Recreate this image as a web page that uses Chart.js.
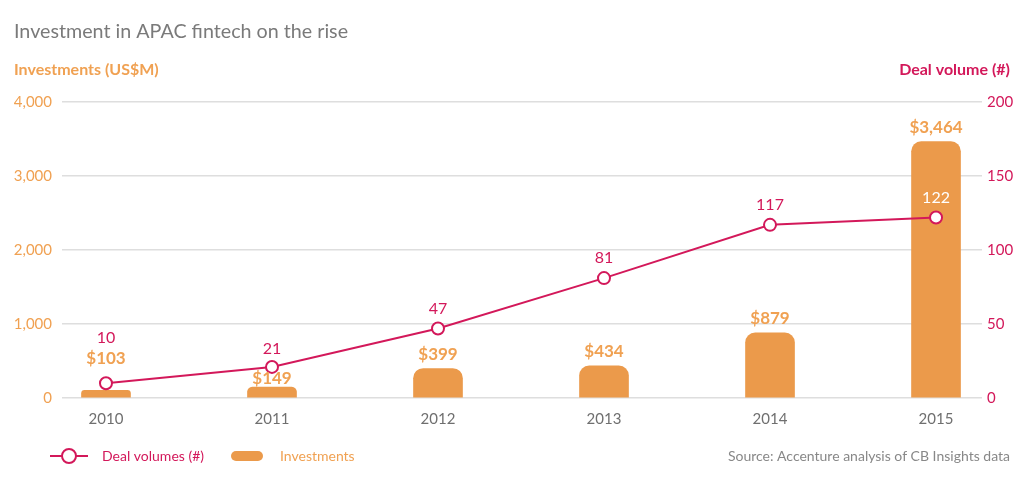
<!DOCTYPE html>
<html>
<head>
<meta charset="utf-8">
<script src="https://cdn.jsdelivr.net/npm/chart.js@4/dist/chart.umd.min.js"></script>
<style>
  html, body { margin: 0; padding: 0; background: #fff; }
  #wrap { width: 1024px; height: 485px; }
</style>
</head>
<body>
<div id="wrap"><canvas id="grafico"></canvas></div>
<script>
const years = ['2010', '2011', '2012', '2013', '2014', '2015']
const investments = [103, 149, 399, 434, 879, 3464]
const dealVolumes = [10, 21, 47, 81, 117, 122]
const leftTicks = [0, 1000, 2000, 3000, 4000]
const rightTicks = [0, 50, 100, 150, 200]

const FONT = 'Lato, "Open Sans", sans-serif'
const ORANGE = '#eb9a4b'
const ORANGE_TXT = '#f0a152'
const CRIMSON = '#d3185a'
const GREY = '#7a7a7a'

function money(v) {
    return '$' + v.toLocaleString('en-US')
}

const labelsPlugin = {
    id: 'labels',
    afterDatasetsDraw(chart) {
        const ctx = chart.ctx
        const bars = chart.getDatasetMeta(1).data
        const pts = chart.getDatasetMeta(0).data
        ctx.save()
        ctx.textAlign = 'center'
        ctx.textBaseline = 'middle'
        bars.forEach(function (b, i) {
            let p = pts[i]
            let yBar = b.y - 14
            let yLine = p.y - 20
            // 2010 and 2011 labels would collide with the line
            if (i == 0) { yBar = p.y - 25; yLine = yBar - 20 }
            if (i == 1) { yBar = b.y - 8; yLine = p.y - 18 }

            ctx.font = 'bold 17px ' + FONT
            ctx.fillStyle = ORANGE_TXT
            ctx.fillText(money(investments[i]), b.x, yBar)

            ctx.font = '16px ' + FONT
            ctx.fillStyle = (p.y > b.y) ? '#ffffff' : CRIMSON
            ctx.fillText(String(dealVolumes[i]), p.x, yLine)
        })
        ctx.restore()
    },
    afterDraw(chart) {
        const ctx = chart.ctx
        ctx.save()
        ctx.textBaseline = 'middle'

        ctx.font = '19.7px ' + FONT
        ctx.fillStyle = GREY
        ctx.textAlign = 'left'
        ctx.fillText('Investment in APAC fintech on the rise', 14, 32)

        ctx.font = 'bold 16px ' + FONT
        ctx.fillStyle = ORANGE_TXT
        ctx.fillText('Investments (US$M)', 14, 70)
        ctx.fillStyle = CRIMSON
        ctx.textAlign = 'right'
        ctx.fillText('Deal volume (#)', 1010, 70)

        // legend
        ctx.strokeStyle = CRIMSON
        ctx.lineWidth = 2
        ctx.beginPath()
        ctx.moveTo(50, 456)
        ctx.lineTo(88, 456)
        ctx.stroke()
        ctx.beginPath()
        ctx.arc(69, 456, 7, 0, Math.PI * 2)
        ctx.fillStyle = '#fff'
        ctx.fill()
        ctx.stroke()

        ctx.font = '14px ' + FONT
        ctx.textAlign = 'left'
        ctx.fillStyle = CRIMSON
        ctx.fillText('Deal volumes (#)', 102, 456)

        ctx.fillStyle = ORANGE
        ctx.beginPath()
        ctx.roundRect(231, 451, 32, 10, 5)
        ctx.fill()
        ctx.fillStyle = ORANGE_TXT
        ctx.fillText('Investments', 280, 456)

        ctx.fillStyle = '#888'
        ctx.textAlign = 'right'
        ctx.fillText('Source: Accenture analysis of CB Insights data', 1010, 456)
        ctx.restore()
    }
}

let canvas = document.getElementById('grafico').getContext('2d')
var chart = new Chart(canvas, {
    type: 'bar',
    data: {
        datasets: [{
                type: 'line',
                label: 'Deal volumes (#)',
                data: dealVolumes.map(function (v, i) { return { x: i, y: v } }),
                yAxisID: 'y1',
                borderColor: CRIMSON,
                borderWidth: 2,
                pointRadius: 6,
                pointBorderWidth: 2,
                pointBackgroundColor: '#fff',
                pointBorderColor: CRIMSON,
                tension: 0,
                order: 0
            }, {
                label: 'Investments',
                data: investments.map(function (v, i) { return { x: i, y: v } }),
                yAxisID: 'y',
                backgroundColor: ORANGE,
                barThickness: 49,
                borderRadius: { topLeft: 10, topRight: 10 },
                borderSkipped: 'bottom',
                order: 1
            }]
    },
    options: {
        responsive: true,
        maintainAspectRatio: false,
        animation: false,
        layout: { padding: { top: 102, bottom: 0, left: 0, right: 0 } },
        plugins: {
            legend: { display: false },
            tooltip: { enabled: false }
        },
        scales: {
            x: {
                type: 'linear',
                offset: false,
                min: -0.265,
                max: 5.277,
                afterBuildTicks: function (scale) {
                    scale.ticks = years.map(function (y, i) { return { value: i } })
                },
                afterFit: function (scale) { scale.height = 87 },
                grid: { display: false },
                border: { display: false },
                ticks: {
                    padding: 4,
                    color: '#6f6f6f',
                    font: { family: FONT, size: 15 },
                    callback: function (v) { return years[v] }
                }
            },
            y: {
                position: 'left',
                min: 0,
                max: 4000,
                afterBuildTicks: function (scale) {
                    scale.ticks = leftTicks.map(function (v) { return { value: v } })
                },
                afterFit: function (scale) { scale.width = 62 },
                border: { display: false },
                grid: { color: '#dedede', lineWidth: 1.5, drawTicks: false },
                ticks: {
                    padding: 10,
                    color: ORANGE_TXT,
                    font: { family: FONT, size: 15 },
                    callback: function (v) { return v.toLocaleString('en-US') }
                }
            },
            y1: {
                position: 'right',
                min: 0,
                max: 200,
                afterBuildTicks: function (scale) {
                    scale.ticks = rightTicks.map(function (v) { return { value: v } })
                },
                afterFit: function (scale) { scale.width = 42 },
                border: { display: false },
                grid: { display: false, drawTicks: false },
                ticks: {
                    padding: 5,
                    color: CRIMSON,
                    font: { family: FONT, size: 15 }
                }
            }
        }
    },
    plugins: [labelsPlugin]
});
</script>
</body>
</html>
